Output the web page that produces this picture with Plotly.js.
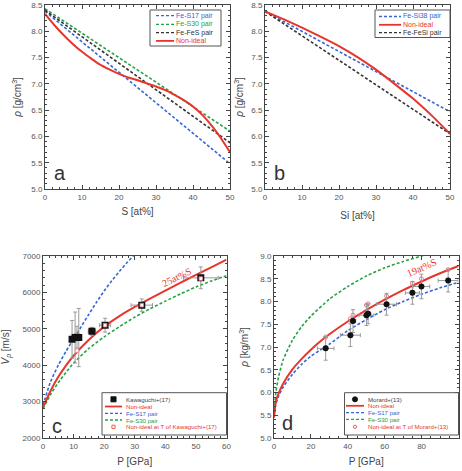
<!DOCTYPE html>
<html>
<head>
<meta charset="utf-8">
<script src="https://cdn.plot.ly/plotly-3.0.1.min.js"></script>
<style>
  html, body { margin: 0; padding: 0; background: #fff; }
  #chart { width: 462px; height: 471px; }
</style>
</head>
<body>
<div id="chart"></div>
<script>
// ---- Panel a: density vs S content ----
const sA = [0, 2.5, 5, 7.5, 10, 12.5, 15, 17.5, 20, 22.5, 25, 27.5, 30, 32.5, 35, 37.5, 40, 42.5, 45, 47.5, 50];
const aNonIdeal = [8.33, 8.12, 7.93, 7.76, 7.61, 7.48, 7.36, 7.27, 7.19, 7.12, 7.07, 7.01, 6.95, 6.88, 6.79, 6.69, 6.57, 6.41, 6.21, 5.97, 5.70];
const sLin = [0, 50];
const aFeS17 = [8.38, 5.48];
const aFeS30 = [8.43, 6.10];
const aFeFeS = [8.40, 5.88];

// ---- Panel b: density vs Si content ----
const siB = [0, 5, 10, 15, 20, 25, 30, 35, 40, 45, 50];
const bNonIdeal = [8.38, 8.23, 8.07, 7.90, 7.72, 7.51, 7.27, 7.00, 6.72, 6.40, 6.05];
const siLin = [0, 50];
const bFeSi38 = [8.38, 6.47];
const bFeFeSi = [8.38, 6.05];

// ---- Panel c: Vp vs pressure ----
const pC = [0, 2.5, 5, 7.5, 10, 15, 20, 25, 30, 35, 40, 45, 50, 55, 60];
const cNonIdeal = [2850, 3300, 3680, 3990, 4260, 4700, 5060, 5350, 5600, 5830, 6050, 6270, 6480, 6690, 6900];
const cFeS30 = [2800, 3200, 3520, 3800, 4060, 4460, 4780, 5060, 5320, 5550, 5760, 5960, 6150, 6310, 6460];
const pCS17 = [0, 2.5, 5, 7.5, 10, 12.5, 15, 17.5, 20, 22.5, 25, 27.5, 30, 32.5];
const cFeS17 = [2900, 3550, 4000, 4380, 4720, 5060, 5400, 5730, 6040, 6320, 6580, 6820, 7040, 7250];
const kawP = [9.5, 10.5, 11.1, 11.7, 16.0, 20.3, 32.3, 51.6];
const kawV = [4710, 4760, 4770, 4760, 4930, 5100, 5650, 6400];
const kawErrV = [520, 700, 300, 800, 110, 190, 170, 300];
const kawErrP = [0.4, 0.4, 0.4, 0.4, 1.2, 1.8, 3.5, 5.7];
const kawModelP = [11.1, 20.3, 32.3, 51.6];
const kawModelV = [4400, 5100, 5650, 6380];

// ---- Panel d: density vs pressure ----
const pD = [0, 1, 2.5, 5, 10, 15, 20, 25, 30, 40, 50, 60, 70, 80, 90, 100];
const dNonIdeal = [5.45, 5.80, 5.98, 6.20, 6.51, 6.74, 6.94, 7.12, 7.28, 7.56, 7.81, 8.04, 8.25, 8.44, 8.62, 8.78];
const dFeS17 = [5.45, 5.75, 5.92, 6.12, 6.40, 6.62, 6.80, 6.93, 7.06, 7.36, 7.60, 7.82, 8.00, 8.16, 8.30, 8.42];
const pDS30 = [0, 1, 2.5, 5, 10, 15, 20, 30, 40, 50, 60, 70, 80, 85];
const dFeS30 = [5.50, 6.00, 6.35, 6.72, 7.15, 7.45, 7.68, 8.05, 8.33, 8.56, 8.74, 8.88, 9.00, 9.06];
const morP = [28.0, 41.4, 42.8, 50.1, 51.0, 61.0, 75.0, 79.9, 94.4];
const morRho = [6.97, 7.26, 7.57, 7.70, 7.73, 7.94, 8.19, 8.33, 8.46];
const morErrRho = [0.26, 0.25, 0.25, 0.23, 0.22, 0.24, 0.25, 0.27, 0.25];
const morErrP = [4.5, 5.4, 1.5, 4.0, 1.5, 5.4, 3.8, 4.5, 5.4];
const morModelRho = [7.22, 7.62, 7.70, 7.92, 7.95, 8.12, 8.40, 8.50, 8.70];

// ---- styling ----
const BLUE = '#3565d6', GREEN = '#25a244', BLACK = '#333333', RED = '#e8352b', PINK = '#f07a8a';
const DASH = '3px,2px';
const W = 462, H = 471;
const fx = v => v / W;          // page px -> paper x
const fy = v => 1 - v / H;      // page px -> paper y
const FONT = 'Liberation Sans, Arial, sans-serif';

function line(x, y, color, dash, xa, ya, width) {
  return { x, y, xaxis: xa, yaxis: ya, mode: 'lines', type: 'scatter', showlegend: false,
           hoverinfo: 'skip', line: { color, width: width || 1.6, dash: dash || 'solid', shape: 'spline', smoothing: 0.6 } };
}

const traces = [
  line(sLin, aFeS17, BLUE, DASH, 'x', 'y'),
  line(sLin, aFeS30, GREEN, DASH, 'x', 'y'),
  line(sLin, aFeFeS, BLACK, DASH, 'x', 'y'),
  line(sA, aNonIdeal, RED, 'solid', 'x', 'y', 2),

  line(siLin, bFeSi38, BLUE, DASH, 'x2', 'y2'),
  line(siLin, bFeFeSi, BLACK, DASH, 'x2', 'y2'),
  line(siB, bNonIdeal, RED, 'solid', 'x2', 'y2', 2),

  line(pCS17, cFeS17, BLUE, DASH, 'x3', 'y3'),
  line(pC, cFeS30, GREEN, DASH, 'x3', 'y3'),
  line(pC, cNonIdeal, RED, 'solid', 'x3', 'y3', 2),
  { x: kawP, y: kawV, xaxis: 'x3', yaxis: 'y3', type: 'scatter', mode: 'markers', showlegend: false,
    marker: { symbol: 'square', size: 7, color: '#111' },
    error_y: { type: 'data', array: kawErrV, color: '#999', thickness: 1, width: 2 },
    error_x: { type: 'data', array: kawErrP, color: '#999', thickness: 1, width: 2 } },
  { x: kawModelP, y: kawModelV, xaxis: 'x3', yaxis: 'y3', type: 'scatter', mode: 'markers', showlegend: false,
    marker: { symbol: 'square', size: 3.5, color: '#fff', line: { color: PINK, width: 0.8 } } },

  line(pDS30, dFeS30, GREEN, DASH, 'x4', 'y4'),
  line(pD, dFeS17, BLUE, DASH, 'x4', 'y4'),
  line(pD, dNonIdeal, RED, 'solid', 'x4', 'y4', 2),
  { x: morP, y: morModelRho, xaxis: 'x4', yaxis: 'y4', type: 'scatter', mode: 'markers', showlegend: false,
    marker: { symbol: 'circle-open', size: 4, color: PINK, line: { width: 1 } } },
  { x: morP, y: morRho, xaxis: 'x4', yaxis: 'y4', type: 'scatter', mode: 'markers', showlegend: false,
    marker: { symbol: 'circle', size: 6, color: '#111' },
    error_y: { type: 'data', array: morErrRho, color: '#999', thickness: 1, width: 2 },
    error_x: { type: 'data', array: morErrP, color: '#999', thickness: 1, width: 2 } }
];

function axis(domain, range, dtick, minor, anchor, title, standoff, fmt) {
  return {
    domain, range, dtick, anchor, tick0: range[0],
    showline: true, linecolor: '#444', linewidth: 1, mirror: 'allticks',
    ticks: 'inside', ticklen: 4, tickcolor: '#444', tickwidth: 1,
    tickfont: { family: FONT, size: 8, color: '#555' },
    tickformat: fmt || '', showgrid: false, zeroline: false, fixedrange: true,
    minor: { ticks: 'inside', ticklen: 2, tickcolor: '#444', dtick: minor, showgrid: false },
    title: { text: title, font: { family: FONT, size: 10, color: '#444' }, standoff }
  };
}

const rho = '<i>ρ</i> [g/cm<sup>3</sup>]';
const layout = {
  width: W, height: H, margin: { l: 0, r: 0, t: 0, b: 0 },
  paper_bgcolor: '#fff', plot_bgcolor: '#fff', showlegend: false,
  font: { family: FONT },
  xaxis:  axis([fx(45), fx(230)], [0, 50], 10, 2, 'y', 'S [at%]', 7),
  yaxis:  axis([fy(189), fy(5)], [5, 8.5], 0.5, 0.1, 'x', rho, 7, '.1f'),
  xaxis2: axis([fx(265), fx(450)], [0, 50], 10, 2, 'y2', 'Si [at%]', 11),
  yaxis2: axis([fy(189), fy(5)], [5, 8.5], 0.5, 0.1, 'x2', rho, 5, '.1f'),
  xaxis3: axis([fx(43), fx(226.5)], [0, 60], 10, 2, 'y3', 'P [GPa]', 8),
  yaxis3: axis([fy(438), fy(256)], [2000, 7000], 1000, 200, 'x3', '<i>V</i><sub><i>p</i></sub> [m/s]', 11),
  xaxis4: axis([fx(274), fx(458.5)], [0, 100], 20, 5, 'y4', 'P [GPa]', 8),
  yaxis4: axis([fy(438), fy(256)], [5, 9], 0.5, 0.1, 'x4', '<i>ρ</i> [kg/m<sup>3</sup>]', 9, '.1f'),
  shapes: [],
  annotations: []
};

// panel letters
const letters = [['a', 'x', 'y', 4, 5.3], ['b', 'x2', 'y2', 4, 5.3], ['c', 'x3', 'y3', 4.5, 2330], ['d', 'x4', 'y4', 7.5, 5.33]];
letters.forEach(([t, xr, yr, x, y]) => layout.annotations.push({
  text: t, xref: xr, yref: yr, x, y, showarrow: false, xanchor: 'center', yanchor: 'middle',
  font: { family: FONT, size: 20, color: '#333' }
}));

// curve labels
layout.annotations.push({ text: '25at%S', xref: 'x3', yref: 'y3', x: 43.5, y: 6420, showarrow: false,
  textangle: -26, font: { family: 'Liberation Serif, Times New Roman, serif', size: 10, color: RED } });
layout.annotations.push({ text: '19at%S', xref: 'x4', yref: 'y4', x: 80, y: 8.75, showarrow: false,
  textangle: -24, font: { family: 'Liberation Serif, Times New Roman, serif', size: 10, color: RED } });

// hand-built legend boxes (compact rows)
function legend(box, rows, sampleX, textX, fontSize, items) {
  layout.shapes.push({ type: 'rect', xref: 'paper', yref: 'paper', x0: fx(box[0]), x1: fx(box[2]),
    y0: fy(box[3]), y1: fy(box[1]), line: { color: '#555', width: 1 }, fillcolor: '#fff' });
  items.forEach((it, i) => {
    const y = rows[i];
    const mid = (sampleX[0] + sampleX[1]) / 2;
    if (it.kind === 'line' || it.kind === 'dash') {
      layout.shapes.push({ type: 'line', xref: 'paper', yref: 'paper', x0: fx(sampleX[0]), x1: fx(sampleX[1]),
        y0: fy(y), y1: fy(y), line: { color: it.color, width: it.kind === 'line' ? 1.8 : 1.3, dash: it.kind === 'dash' ? DASH : 'solid' } });
    } else {
      const r = it.kind.startsWith('small') ? 1.6 : 2.6;
      const shapeType = it.kind.endsWith('circle') ? 'circle' : 'rect';
      const filled = !it.kind.startsWith('small');
      layout.shapes.push({ type: shapeType, xref: 'paper', yref: 'paper', x0: fx(mid - r), x1: fx(mid + r),
        y0: fy(y + r), y1: fy(y - r), line: { color: it.color, width: 0.8 }, fillcolor: filled ? it.color : '#fff' });
    }
    layout.annotations.push({ text: it.name, xref: 'paper', yref: 'paper', x: fx(textX), y: fy(y),
      xanchor: 'left', yanchor: 'middle', showarrow: false, borderpad: 0,
      font: { family: FONT, size: fontSize, color: it.textColor || it.color } });
  });
}

legend([150, 10, 221, 46], [15.7, 24.3, 32.7, 40.9], [156, 174], 174.5, 7, [
  { name: 'Fe-S17 pair', color: BLUE, kind: 'dash' },
  { name: 'Fe-S30 pair', color: GREEN, kind: 'dash' },
  { name: 'Fe-FeS pair', color: BLACK, kind: 'dash' },
  { name: 'Non-ideal', color: RED, kind: 'line' }
]);
legend([375, 10, 450, 37.5], [16.5, 24.8, 32.7], [379, 401], 401.5, 7, [
  { name: 'Fe-Si38 pair', color: BLUE, kind: 'dash' },
  { name: 'Non-ideal', color: RED, kind: 'line' },
  { name: 'Fe-FeSi pair', color: BLACK, kind: 'dash' }
]);
legend([102, 392.7, 226.5, 435], [399.3, 406.5, 413.3, 420, 426.8], [105, 122], 124.5, 6.1, [
  { name: 'Kawaguchi+(17)', color: '#111', textColor: '#444', kind: 'square' },
  { name: 'Non-ideal', color: RED, kind: 'line' },
  { name: 'Fe-S17 pair', color: BLUE, kind: 'dash' },
  { name: 'Fe-S30 pair', color: GREEN, kind: 'dash' },
  { name: 'Non-ideal at T of Kawaguchi+(17)', color: RED, kind: 'smallsquare' }
]);
legend([344.5, 392.7, 458.5, 435], [399.3, 405.8, 412.7, 419.4, 426.8], [346, 364], 367, 6.1, [
  { name: 'Morard+(13)', color: '#111', textColor: '#444', kind: 'circle' },
  { name: 'Non-ideal', color: RED, kind: 'line' },
  { name: 'Fe-S17 pair', color: BLUE, kind: 'dash' },
  { name: 'Fe-S30 pair', color: GREEN, kind: 'dash' },
  { name: 'Non-ideal at T of Morard+(13)', color: RED, kind: 'smallcircle' }
]);

Plotly.newPlot('chart', traces, layout, { staticPlot: true, displayModeBar: false });
</script>
</body>
</html>
